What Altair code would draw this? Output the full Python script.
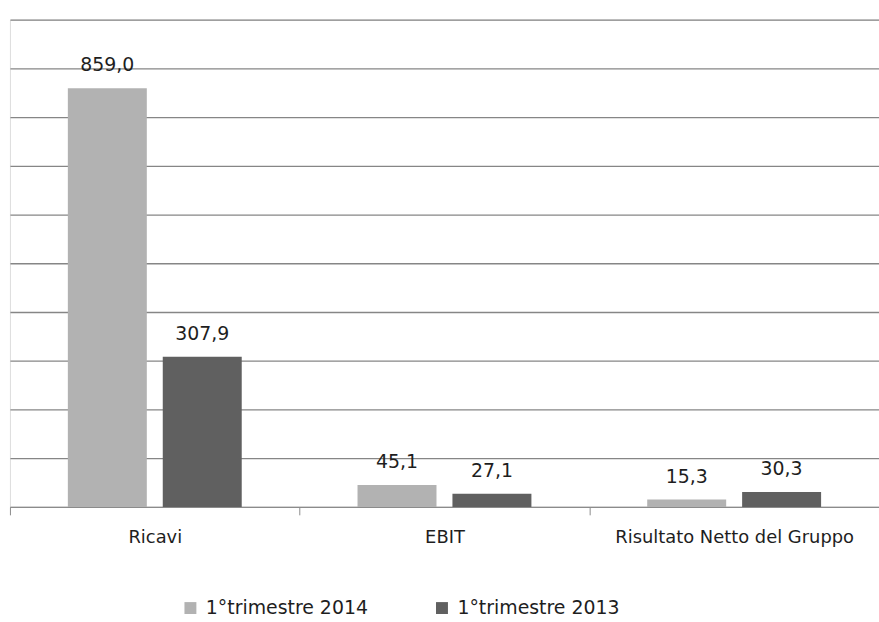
import altair as alt
import pandas as pd

categories = ["Ricavi", "EBIT", "Risultato Netto del Gruppo"]
series = ["1°trimestre 2014", "1°trimestre 2013"]
values_2014 = [859.0, 45.1, 15.3]
values_2013 = [307.9, 27.1, 30.3]
y_ticks = [0, 100, 200, 300, 400, 500, 600, 700, 800, 900, 1000]
colors = ["#b2b2b2", "#606060"]

rows = []
for c, v1, v2 in zip(categories, values_2014, values_2013):
    rows.append({"cat": c, "serie": series[0], "val": v1})
    rows.append({"cat": c, "serie": series[1], "val": v2})
df = pd.DataFrame(rows)

FONT = "DejaVu Sans"
TXT = "#1e1e1e"

x = alt.X("cat:N", sort=categories, title=None,
          scale=alt.Scale(paddingInner=0, paddingOuter=0),
          axis=alt.Axis(labelAngle=0, labelFontSize=18, labelFont=FONT, labelColor=TXT,
                        labelPadding=14, labelLimit=0, domainColor="#8c8c8c",
                        tickColor="#8c8c8c", tickBand="extent", tickSize=8, grid=False))
xo = alt.XOffset("serie:N", sort=series,
                 scale=alt.Scale(paddingInner=0.168, paddingOuter=0.61))
y = alt.Y("val:Q", title=None,
          scale=alt.Scale(domain=[0, 1000], nice=False),
          axis=alt.Axis(values=y_ticks, labels=False, ticks=False, domain=False,
                        gridColor="#868686", gridWidth=1.3, gridOpacity=1))

bars = alt.Chart(df).mark_bar().encode(
    x=x, xOffset=xo, y=y,
    color=alt.Color("serie:N", sort=series,
                    scale=alt.Scale(domain=series, range=colors),
                    legend=alt.Legend(title=None, orient="none", direction="horizontal",
                                      legendX=172, legendY=582, symbolType="square",
                                      symbolSize=144, symbolStrokeWidth=0,
                                      labelFont=FONT, labelFontSize=19, labelColor=TXT,
                                      labelLimit=0, columnPadding=64, labelOffset=6)),
)

labels = alt.Chart(df).transform_calculate(
    lab="replace(format(datum.val, '.1f'), '.', ',')"
).mark_text(baseline="alphabetic", dy=-17, font=FONT, fontSize=19, color=TXT).encode(
    x=x, xOffset=xo, y=y, text="lab:N"
)

chart = alt.layer(bars, labels).properties(
    width=874, height=490,
    autosize=alt.AutoSizeParams(type="none"),
    padding={"left": 10, "top": 18, "right": 0, "bottom": 114},
).configure_view(stroke=None).configure(background="white")

chart.save("out.html", embed_options={"renderer": "svg", "actions": False})
